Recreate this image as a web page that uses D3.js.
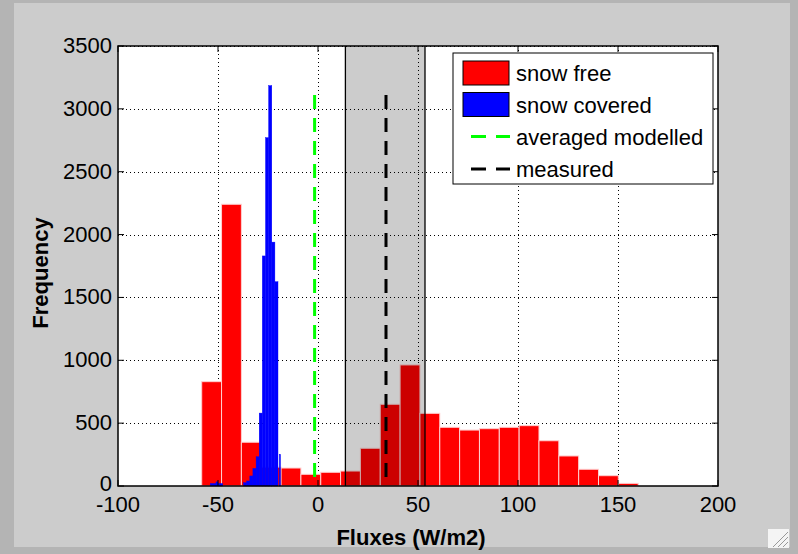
<!DOCTYPE html>
<html><head><meta charset="utf-8">
<script src="https://cdn.jsdelivr.net/npm/d3@7"></script>
<style>
html,body{margin:0;padding:0;background:#cccccc;}
svg{display:block;}
text{font-family:"Liberation Sans",Arial,Helvetica,sans-serif;fill:#000;}
</style></head>
<body>
<svg id="chart" width="798" height="554"></svg>
<script>
// ---------- data ----------
const xTicks = [-100, -50, 0, 50, 100, 150, 200];
const yTicks = [0, 500, 1000, 1500, 2000, 2500, 3000, 3500];
// snow free histogram (22 equal bins)
const redBinStart = -58.15;
const redBinWidth = 9.92;
const redCounts = [830, 2241, 348, 150, 143, 93, 109, 119, 300, 650, 963, 578,
                   467, 445, 456, 467, 480, 360, 239, 133, 82, 21];
// snow covered histogram
const blueLo = [-53.85, -51.0, -50.0, -37.25, -35.7, -34.1, -32.55, -30.95, -29.4, -27.85, -26.25, -24.7, -23.1, -21.55, -19.35];
const blueHi = [-51.0, -50.0, -47.65, -35.7, -34.1, -32.55, -30.95, -29.4, -27.85, -26.25, -24.7, -23.1, -21.55, -20.0, -18.75];
const blueCounts = [20, 33, 20, 26, 40, 80, 140, 233, 580, 1830, 2771, 3185, 1940, 1625, 252];
// reference lines
const modelledMean = -1.7;
const measuredMean = 34;
const dashTop = 3110;
const rangeLo = 13.7;
const rangeHi = 53.5;
const legendLabels = ["snow free", "snow covered", "averaged modelled", "measured"];
const legendColors = ["#ff0000", "#0000ff", "#00ff00", "#000000"];

// ---------- layout ----------
const svg = d3.select("#chart");
const W = 798, H = 554;
const L = 118, R = 718, T = 46, B = 486;

// figure frame
svg.append("rect").attr("x",0).attr("y",0).attr("width",W).attr("height",H).attr("fill","#b4b4b4");
svg.append("rect").attr("x",14).attr("y",3).attr("width",776).attr("height",544).attr("fill","#cccccc");

const x = d3.scaleLinear().domain([-100, 200]).range([L, R]);
const y = d3.scaleLinear().domain([0, 3500]).range([B, T]);

// axes background
svg.append("rect").attr("x",L).attr("y",T).attr("width",R-L).attr("height",B-T).attr("fill","#ffffff");

// grid
const grid = svg.append("g");
xTicks.slice(1, -1).forEach(v => {
  grid.append("line").attr("x1", x(v)).attr("x2", x(v)).attr("y1", T).attr("y2", B)
    .attr("stroke","#000").attr("stroke-width",1).attr("stroke-dasharray","1,3")
    .attr("shape-rendering","crispEdges");
});
yTicks.slice(1).forEach(v => {
  grid.append("line").attr("x1", L).attr("x2", R).attr("y1", y(v)+0.5).attr("y2", y(v)+0.5)
    .attr("stroke","#000").attr("stroke-width",1).attr("stroke-dasharray","1,3")
    .attr("shape-rendering","crispEdges");
});

// red bars
svg.append("g").selectAll("rect").data(redCounts).join("rect")
  .attr("x", (d,i) => x(redBinStart + i*redBinWidth))
  .attr("width", (d,i) => x(redBinStart + (i+1)*redBinWidth) - x(redBinStart + i*redBinWidth))
  .attr("y", d => y(d))
  .attr("height", d => B - y(d))
  .attr("fill","#ff0000").attr("stroke","#ffd0d0").attr("stroke-width",1);

// blue bars
svg.append("g").selectAll("rect").data(blueCounts).join("rect")
  .attr("x", (d,i) => x(blueLo[i]))
  .attr("width", (d,i) => x(blueHi[i]) - x(blueLo[i]))
  .attr("y", d => y(d))
  .attr("height", d => B - y(d))
  .attr("fill","#0000ff").attr("stroke","#0000ff").attr("stroke-width",0.4);

// dashed mean lines (dash pattern starts at the top)
svg.append("line").attr("x1", x(modelledMean)).attr("x2", x(modelledMean))
  .attr("y1", y(dashTop)).attr("y2", y(0))
  .attr("stroke","#00ff00").attr("stroke-width",3).attr("stroke-dasharray","14,9");
svg.append("line").attr("x1", x(measuredMean)).attr("x2", x(measuredMean))
  .attr("y1", y(dashTop)).attr("y2", y(0))
  .attr("stroke","#000000").attr("stroke-width",3).attr("stroke-dasharray","14,9");

// shaded measured range
svg.append("rect").attr("x", x(rangeLo)).attr("y", T)
  .attr("width", x(rangeHi) - x(rangeLo)).attr("height", B - T)
  .attr("fill","#000").attr("fill-opacity",0.2);
[rangeLo, rangeHi].forEach(v => {
  svg.append("line").attr("x1", x(v)).attr("x2", x(v)).attr("y1", T).attr("y2", B)
    .attr("stroke","#000").attr("stroke-width",1.3);
});

// axes box + ticks
const tl = 6;
svg.append("rect").attr("x",L).attr("y",T).attr("width",R-L).attr("height",B-T)
  .attr("fill","none").attr("stroke","#000").attr("stroke-width",1.5);
xTicks.forEach(v => {
  svg.append("line").attr("x1",x(v)).attr("x2",x(v)).attr("y1",B).attr("y2",B-tl).attr("stroke","#000");
  svg.append("line").attr("x1",x(v)).attr("x2",x(v)).attr("y1",T).attr("y2",T+tl).attr("stroke","#000");
});
yTicks.forEach(v => {
  svg.append("line").attr("x1",L).attr("x2",L+tl).attr("y1",y(v)).attr("y2",y(v)).attr("stroke","#000");
  svg.append("line").attr("x1",R).attr("x2",R-tl).attr("y1",y(v)).attr("y2",y(v)).attr("stroke","#000");
});

// tick labels
svg.append("g").selectAll("text").data(xTicks).join("text")
  .attr("x", d => x(d)).attr("y", 512)
  .attr("text-anchor","middle").attr("font-size",22)
  .text(d => d);
svg.append("g").selectAll("text").data(yTicks).join("text")
  .attr("x", 112).attr("y", d => y(d) + (d === 0 ? 5 : 7))
  .attr("text-anchor","end").attr("font-size",22)
  .text(d => d);

// axis labels
svg.append("text").attr("x", 411).attr("y", 545).attr("text-anchor","middle")
  .attr("font-size",22).attr("font-weight","bold").text("Fluxes (W/m2)");
svg.append("text").attr("transform","translate(48,273) rotate(-90)")
  .attr("text-anchor","middle").attr("font-size",22).attr("font-weight","bold").text("Frequency");

// legend
const lg = svg.append("g");
lg.append("rect").attr("x",453).attr("y",53).attr("width",260).attr("height",131)
  .attr("fill","#fff").attr("stroke","#000").attr("stroke-width",1);
const rowY = [73, 104.5, 136.5, 169];
legendLabels.forEach((lab, i) => {
  if (i < 2) {
    lg.append("rect").attr("x",463).attr("y",rowY[i]-12).attr("width",46).attr("height",24)
      .attr("fill",legendColors[i]).attr("stroke","#000").attr("stroke-width",1);
  } else {
    lg.append("line").attr("x1",471).attr("x2",510).attr("y1",rowY[i]).attr("y2",rowY[i])
      .attr("stroke",legendColors[i]).attr("stroke-width",3).attr("stroke-dasharray","15,10");
  }
  lg.append("text").attr("x",516).attr("y",rowY[i]+8).attr("font-size",22).text(lab);
});

// resize grip
const grip = svg.append("g");
grip.append("rect").attr("x",768).attr("y",529).attr("width",21).attr("height",19).attr("fill","#f4f4f4");
[0,5,10].forEach(o => {
  grip.append("line").attr("x1",788).attr("y1",532+o).attr("x2",773+o).attr("y2",547)
    .attr("stroke","#999").attr("stroke-width",1);
});
</script>
</body></html>
